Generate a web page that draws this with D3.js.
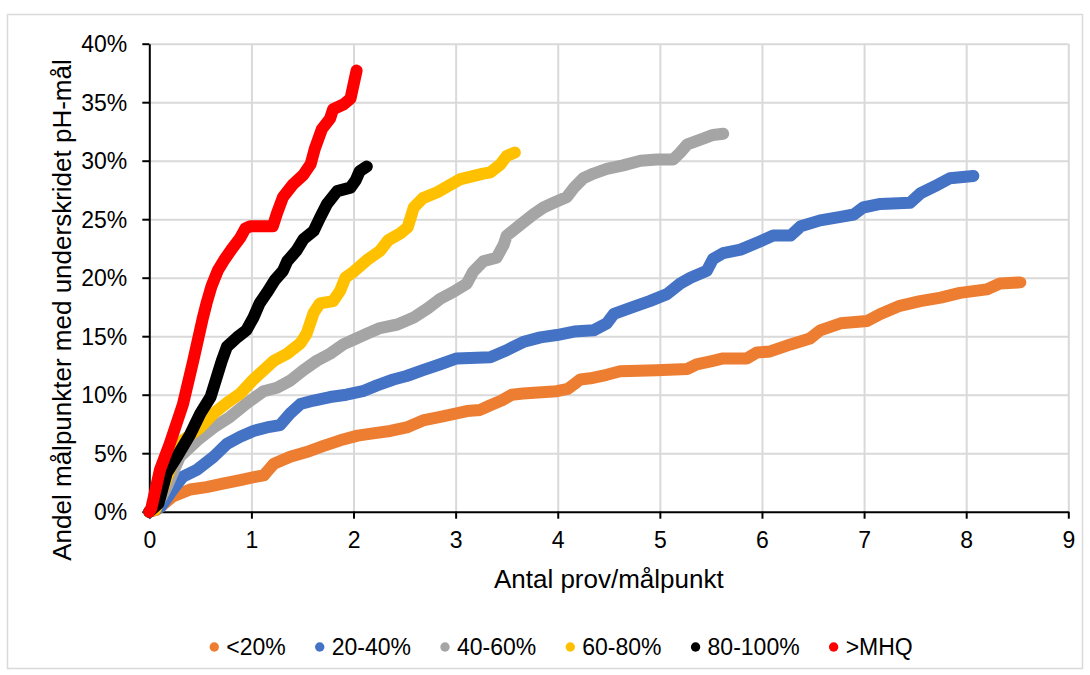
<!DOCTYPE html>
<html>
<head>
<meta charset="utf-8">
<script src="https://cdn.jsdelivr.net/npm/d3@7"></script>
<style>
  body { margin: 0; background: #fff; }
  svg { display: block; }
  text { font-family: "Liberation Sans", Arial, sans-serif; fill: #000; }
</style>
</head>
<body>
<svg id="chart" width="1090" height="675"></svg>
<script>
// Series names and colours
const seriesNames = ["<20%", "20-40%", "40-60%", "60-80%", "80-100%", ">MHQ"];
const seriesColors = ["#ED7D31", "#4472C4", "#A5A5A5", "#FFC000", "#000000", "#FF0000"];

// Axis ticks
const xTickValues = [0, 1, 2, 3, 4, 5, 6, 7, 8, 9];
const xTickLabels = ["0", "1", "2", "3", "4", "5", "6", "7", "8", "9"];
const yTickValues = [0, 5, 10, 15, 20, 25, 30, 35, 40];
const yTickLabels = ["0%", "5%", "10%", "15%", "20%", "25%", "30%", "35%", "40%"];

// Cumulative share (%) of target points below the pH goal vs. samples per target point
const xLt20 = [0, 0.07, 0.23, 0.40, 0.56, 0.72, 0.89, 1.05, 1.12, 1.17, 1.22, 1.38, 1.54, 1.70, 1.87, 2.04, 2.19, 2.36, 2.52, 2.68, 2.85, 3.01, 3.11, 3.24, 3.34, 3.45, 3.55, 3.66, 3.99, 4.10, 4.16, 4.22, 4.32, 4.48, 4.61, 4.97, 5.27, 5.36, 5.52, 5.62, 5.85, 5.95, 6.08, 6.28, 6.47, 6.57, 6.77, 7.03, 7.16, 7.35, 7.55, 7.75, 7.94, 8.20, 8.33, 8.53];
const yLt20 = [0, 0.15, 1.3, 1.9, 2.1, 2.4, 2.7, 3.0, 3.1, 3.6, 4.1, 4.7, 5.1, 5.6, 6.1, 6.5, 6.7, 6.9, 7.2, 7.8, 8.1, 8.4, 8.6, 8.7, 9.1, 9.5, 10.0, 10.1, 10.3, 10.5, 10.9, 11.3, 11.4, 11.7, 12.0, 12.1, 12.2, 12.6, 12.9, 13.1, 13.1, 13.6, 13.7, 14.3, 14.8, 15.5, 16.1, 16.3, 16.9, 17.6, 18.0, 18.3, 18.7, 19.0, 19.5, 19.6];

const x20to40 = [0, 0.11, 0.23, 0.33, 0.47, 0.63, 0.76, 0.89, 1.02, 1.15, 1.28, 1.38, 1.48, 1.61, 1.77, 1.93, 2.09, 2.23, 2.39, 2.52, 2.68, 2.85, 3.01, 3.34, 3.50, 3.66, 3.83, 3.99, 4.16, 4.35, 4.48, 4.55, 4.74, 4.90, 5.07, 5.20, 5.30, 5.46, 5.52, 5.62, 5.79, 5.98, 6.11, 6.28, 6.38, 6.57, 6.77, 6.90, 6.99, 7.16, 7.45, 7.55, 7.71, 7.84, 8.07];
const y20to40 = [0, 0.4, 1.9, 3.0, 3.6, 4.7, 5.8, 6.4, 6.9, 7.2, 7.4, 8.4, 9.2, 9.5, 9.8, 10.0, 10.3, 10.8, 11.3, 11.6, 12.1, 12.6, 13.1, 13.2, 13.8, 14.5, 14.9, 15.1, 15.4, 15.5, 16.1, 16.9, 17.5, 18.0, 18.6, 19.5, 20.0, 20.6, 21.6, 22.1, 22.4, 23.1, 23.6, 23.6, 24.4, 24.9, 25.2, 25.4, 26.0, 26.3, 26.4, 27.2, 27.9, 28.5, 28.7];

const x40to60 = [0, 0.07, 0.17, 0.30, 0.47, 0.63, 0.79, 0.96, 1.12, 1.25, 1.38, 1.51, 1.64, 1.77, 1.90, 2.00, 2.13, 2.26, 2.43, 2.59, 2.73, 2.85, 2.98, 3.11, 3.17, 3.27, 3.40, 3.47, 3.50, 3.63, 3.76, 3.86, 3.96, 4.09, 4.16, 4.25, 4.35, 4.48, 4.64, 4.81, 4.97, 5.13, 5.20, 5.27, 5.43, 5.52, 5.62];
const y40to60 = [0, 0.4, 2.1, 4.7, 6.1, 7.2, 8.1, 9.3, 10.3, 10.6, 11.2, 12.1, 12.9, 13.5, 14.3, 14.7, 15.2, 15.7, 16.0, 16.6, 17.4, 18.2, 18.8, 19.5, 20.5, 21.4, 21.7, 22.8, 23.6, 24.5, 25.4, 26.0, 26.4, 26.9, 27.7, 28.5, 28.9, 29.3, 29.6, 30.0, 30.1, 30.1, 30.7, 31.4, 31.9, 32.2, 32.3];

const x60to80 = [0, 0.06, 0.20, 0.33, 0.50, 0.63, 0.76, 0.89, 1.02, 1.12, 1.22, 1.35, 1.48, 1.54, 1.61, 1.67, 1.80, 1.87, 1.92, 2.00, 2.13, 2.26, 2.34, 2.46, 2.53, 2.59, 2.68, 2.82, 2.94, 3.04, 3.27, 3.34, 3.44, 3.50, 3.58];
const y60to80 = [0, 0.2, 3.6, 6.1, 7.2, 8.4, 9.3, 10.1, 11.3, 12.1, 12.9, 13.5, 14.4, 15.2, 17.0, 17.8, 18.0, 18.9, 20.0, 20.5, 21.5, 22.3, 23.2, 23.8, 24.3, 26.0, 26.8, 27.3, 27.9, 28.4, 28.9, 29.0, 29.7, 30.4, 30.7];

const x80to100 = [0, 0.09, 0.17, 0.27, 0.40, 0.50, 0.60, 0.66, 0.71, 0.76, 0.86, 0.95, 1.02, 1.08, 1.15, 1.23, 1.31, 1.35, 1.44, 1.51, 1.61, 1.67, 1.74, 1.84, 1.97, 2.02, 2.06, 2.13];
const y80to100 = [0, 0.7, 3.3, 4.7, 6.6, 8.4, 9.8, 11.5, 12.9, 14.1, 14.9, 15.5, 16.6, 17.8, 18.7, 19.8, 20.6, 21.4, 22.3, 23.3, 24.0, 25.1, 26.3, 27.4, 27.7, 28.3, 29.1, 29.5];

const xMHQ = [0, 0.02, 0.105, 0.20, 0.33, 0.43, 0.52, 0.56, 0.61, 0.67, 0.74, 0.82, 0.89, 0.94, 0.99, 1.21, 1.25, 1.31, 1.41, 1.51, 1.58, 1.62, 1.69, 1.77, 1.80, 1.90, 1.97, 2.00, 2.03];
const yMHQ = [0, 0.3, 3.6, 5.8, 9.2, 12.9, 16.4, 17.8, 19.3, 20.6, 21.6, 22.6, 23.4, 24.2, 24.4, 24.4, 25.5, 26.9, 28.0, 28.8, 29.7, 31.0, 32.7, 33.6, 34.4, 34.8, 35.3, 36.5, 37.7];

const seriesX = [xLt20, x20to40, x40to60, x60to80, x80to100, xMHQ];
const seriesY = [yLt20, y20to40, y40to60, y60to80, y80to100, yMHQ];

const xTitle = "Antal prov/målpunkt";
const yTitle = "Andel målpunkter med underskridet pH-mål";

// Layout
const svg = d3.select("#chart");
const plot = { left: 149.3, top: 43.7, right: 1068.3, bottom: 511.7 };
const gridColor = "#d9d9d9";

const x = d3.scaleLinear().domain([0, 9]).range([plot.left, plot.right]);
const y = d3.scaleLinear().domain([0, 40]).range([plot.bottom, plot.top]);

// Chart frame
svg.append("rect")
  .attr("x", 7.5).attr("y", 14.5)
  .attr("width", 1075).attr("height", 654)
  .attr("fill", "#fff").attr("stroke", gridColor).attr("stroke-width", 1.5);

// Gridlines
svg.append("g")
  .attr("transform", `translate(0,${plot.bottom})`)
  .call(d3.axisBottom(x).tickValues(xTickValues.slice(1)).tickSize(-(plot.bottom - plot.top)).tickFormat(""))
  .call(g => g.select(".domain").remove())
  .call(g => g.selectAll("line").attr("stroke", gridColor).attr("stroke-width", 2));

svg.append("g")
  .attr("transform", `translate(${plot.left},0)`)
  .call(d3.axisLeft(y).tickValues(yTickValues.slice(1)).tickSize(-(plot.right - plot.left)).tickFormat(""))
  .call(g => g.select(".domain").remove())
  .call(g => g.selectAll("line").attr("stroke", gridColor).attr("stroke-width", 2));

// Axes
const xAxis = svg.append("g")
  .attr("transform", `translate(0,${plot.bottom})`)
  .call(d3.axisBottom(x).tickValues(xTickValues).tickFormat((d, i) => xTickLabels[i]).tickSize(7).tickSizeOuter(0));
xAxis.select(".domain").attr("stroke", "#000").attr("stroke-width", 2);
xAxis.selectAll(".tick line").attr("stroke", "#000").attr("stroke-width", 2);
xAxis.selectAll(".tick text")
  .attr("y", 36).attr("dy", null)
  .style("font-size", "23px").style("font-family", '"Liberation Sans", Arial, sans-serif').attr("fill", "#000");

const yAxis = svg.append("g")
  .attr("transform", `translate(${plot.left},0)`)
  .call(d3.axisLeft(y).tickValues(yTickValues).tickFormat((d, i) => yTickLabels[i]).tickSize(7).tickSizeOuter(0));
yAxis.select(".domain").attr("stroke", "#000").attr("stroke-width", 2);
yAxis.selectAll(".tick line").attr("stroke", "#000").attr("stroke-width", 2);
yAxis.selectAll(".tick text")
  .attr("x", -22).attr("dy", "0.36em")
  .style("font-size", "23px").style("font-family", '"Liberation Sans", Arial, sans-serif').attr("fill", "#000");

// Series, drawn as thick marker trails
const line = d3.line().x(d => x(d[0])).y(d => y(d[1]));
seriesNames.forEach((name, i) => {
  const pts = seriesX[i].map((v, j) => [v, seriesY[i][j]]);
  svg.append("path")
    .datum(pts)
    .attr("d", line)
    .attr("fill", "none")
    .attr("stroke", seriesColors[i])
    .attr("stroke-width", 12)
    .attr("stroke-linecap", "round")
    .attr("stroke-linejoin", "round");
});

// Axis titles
svg.append("text")
  .attr("x", (plot.left + plot.right) / 2).attr("y", 588)
  .attr("text-anchor", "middle")
  .style("font-size", "26px")
  .text(xTitle);

svg.append("text")
  .attr("transform", "translate(71,310) rotate(-90)")
  .attr("text-anchor", "middle")
  .style("font-size", "26px")
  .text(yTitle);

// Legend
const legend = svg.append("g");
const legendY = 647;
let cursor = 0;
seriesNames.forEach((name, i) => {
  const g = legend.append("g");
  g.append("circle").attr("cx", 0).attr("cy", legendY).attr("r", 4.7).attr("fill", seriesColors[i]);
  const t = g.append("text").attr("x", 12).attr("y", legendY + 8.3).style("font-size", "23px").text(name);
  const w = 12 + t.node().getComputedTextLength();
  g.attr("transform", `translate(${cursor},0)`);
  cursor += w + 34;
});
const legendWidth = cursor - 34 + 5;
legend.attr("transform", `translate(${561 - legendWidth / 2 + 5},0)`);
</script>
</body>
</html>
